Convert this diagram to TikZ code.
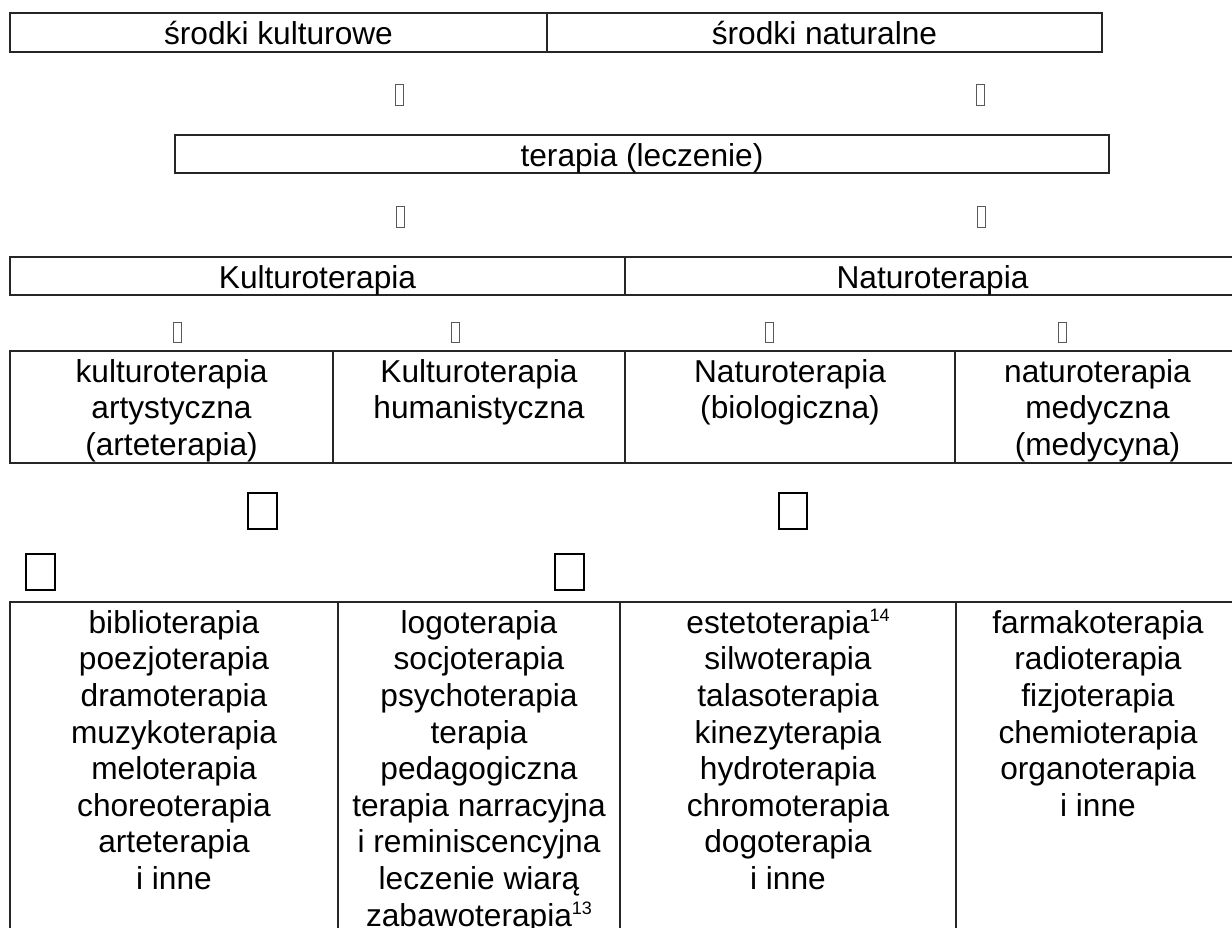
\documentclass[tikz,border=0pt]{standalone}
\usepackage{fontspec}
\setmainfont{Liberation Sans}
\newcommand{\tfont}{\fontsize{23.75pt}{27.45pt}\selectfont}
\newcommand{\fs}{\rule{0pt}{23.25pt}}
\newcommand{\supn}[1]{\raisebox{9pt}{\fontsize{13.5pt}{13.5pt}\selectfont #1}}
\begin{document}
\begin{tikzpicture}[x=0.75pt,y=-0.75pt,
  tbl/.style={draw=black!85, line width=1.1pt},
  cell/.style={anchor=north, inner sep=0pt, align=center, font=\tfont},
  tofu/.style={draw=black!65, line width=0.6pt},
  bigtofu/.style={draw=black, line width=1.5pt}]
\useasboundingbox (0,0) rectangle (1232,928);
\clip (0,0) rectangle (1232,928);
% row 1
\draw[tbl] (10,13) rectangle (1102,52);
\draw[tbl] (547,13) -- (547,52);
\node[cell] (sk) at (278.5,13) {\fs środki kulturowe};
\node[cell] (sn) at (824.5,13) {\fs środki naturalne};
\draw[tofu] (395,84) rectangle (403,105);
\draw[tofu] (976,84) rectangle (984,105);
% row 2
\draw[tbl] (175,135) rectangle (1109,173);
\node[cell] (tl) at (642,135) {\fs terapia (leczenie)};
\draw[tofu] (396,206) rectangle (404,227);
\draw[tofu] (977,206) rectangle (985,227);
% row 3
\draw[tbl] (10,257) rectangle (1240,295);
\draw[tbl] (625,257) -- (625,295);
\node[cell] (kt) at (317.5,257) {\fs Kulturoterapia};
\node[cell] (nt) at (932.5,257) {\fs Naturoterapia};
\draw[tofu] (173,322) rectangle (181,342);
\draw[tofu] (451,322) rectangle (459,342);
\draw[tofu] (765,322) rectangle (773,342);
\draw[tofu] (1058,322) rectangle (1066,342);
% row 4
\draw[tbl] (10,351) rectangle (1240,463);
\draw[tbl] (333,351) -- (333,463);
\draw[tbl] (625,351) -- (625,463);
\draw[tbl] (955,351) -- (955,463);
\node[cell] (ka) at (171.5,351) {\fs kulturoterapia\\artystyczna\\(arteterapia)};
\node[cell] (kh) at (479,351) {\fs Kulturoterapia\\humanistyczna};
\node[cell] (nb) at (790,351) {\fs Naturoterapia\\(biologiczna)};
\node[cell] (nm) at (1097.5,351) {\fs naturoterapia\\medyczna\\(medycyna)};
\draw[bigtofu] (248,493) rectangle (277,529);
\draw[bigtofu] (779,493) rectangle (807,529);
\draw[bigtofu] (26,554) rectangle (55,590);
\draw[bigtofu] (555,554) rectangle (584,590);
% row 5
\draw[tbl] (10,602) rectangle (1240,990);
\draw[tbl] (338,602) -- (338,990);
\draw[tbl] (620,602) -- (620,990);
\draw[tbl] (956,602) -- (956,990);
\node[cell] (c1) at (174,602) {\fs biblioterapia\\poezjoterapia\\dramoterapia\\muzykoterapia\\meloterapia\\choreoterapia\\arteterapia\\i inne};
\node[cell] (c2) at (479,602) {\fs logoterapia\\socjoterapia\\psychoterapia\\terapia\\pedagogiczna\\terapia narracyjna\\i reminiscencyjna\\leczenie wiarą\\zabawoterapia\supn{13}};
\node[cell] (c3) at (788,602) {\fs estetoterapia\supn{14}\\silwoterapia\\talasoterapia\\kinezyterapia\\hydroterapia\\chromoterapia\\dogoterapia\\i inne};
\node[cell] (c4) at (1098,602) {\fs farmakoterapia\\radioterapia\\fizjoterapia\\chemioterapia\\organoterapia\\i inne};
\end{tikzpicture}
\end{document}
